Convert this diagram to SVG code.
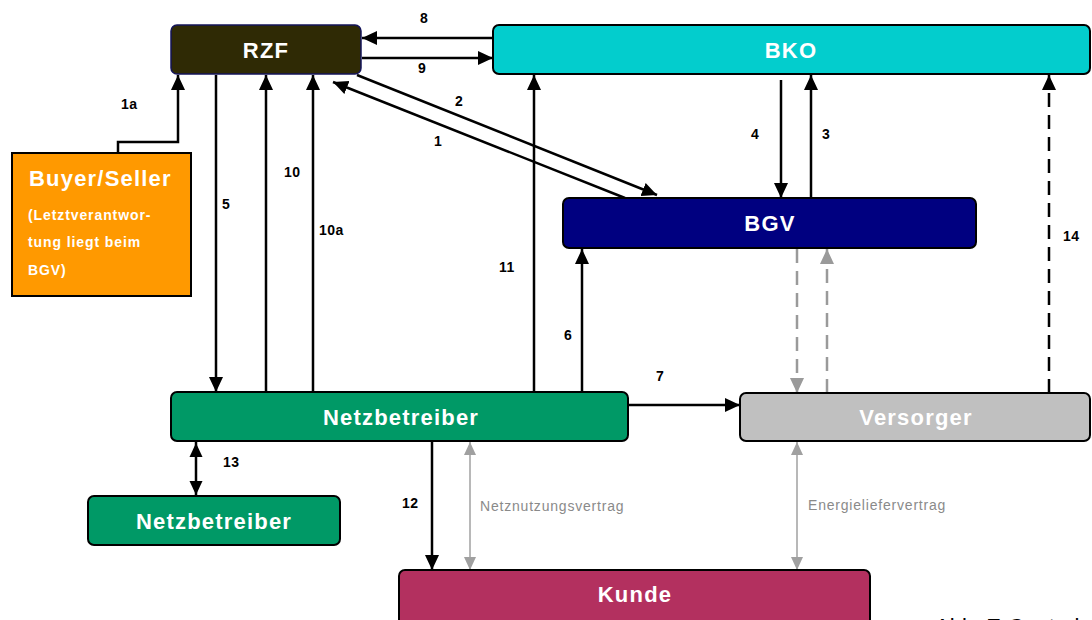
<svg xmlns="http://www.w3.org/2000/svg" width="1092" height="620" viewBox="0 0 1092 620">
<defs>
<style>
.node{stroke:#000;stroke-width:2}
.title{font-family:"Liberation Sans",Arial,sans-serif;font-weight:bold;font-size:22px;letter-spacing:1.2px;fill:#fff;text-anchor:middle}
.lbl{font-family:"Liberation Sans",Arial,sans-serif;font-weight:bold;font-size:14px;letter-spacing:0.5px;fill:#000}
.glbl{font-family:"Liberation Sans",Arial,sans-serif;font-size:14px;letter-spacing:0.8px;fill:#8a8a8a}
.small{font-family:"Liberation Sans",Arial,sans-serif;font-weight:bold;font-size:14px;letter-spacing:0.9px;fill:#fff}
.c{fill:none;stroke:#000;stroke-width:2.5}
.cd{fill:none;stroke:#000;stroke-width:2.5;stroke-dasharray:14,8}
.gd{fill:none;stroke:#9a9a9a;stroke-width:2.5;stroke-dasharray:14,8}
.gt{fill:none;stroke:#a0a0a0;stroke-width:1.5}
</style>
<marker id="ab" markerUnits="userSpaceOnUse" markerWidth="16" markerHeight="16" refX="15" refY="8" orient="auto">
<path d="M0,1 L15,8 L0,15 z" fill="#000"/>
</marker>
<marker id="abs" markerUnits="userSpaceOnUse" markerWidth="16" markerHeight="16" refX="15" refY="8" orient="auto-start-reverse">
<path d="M0,1.5 L14,8 L0,14.5 z" fill="#000"/>
</marker>
<marker id="ag" markerUnits="userSpaceOnUse" markerWidth="16" markerHeight="16" refX="15" refY="8" orient="auto">
<path d="M0,1 L15,8 L0,15 z" fill="#9a9a9a"/>
</marker>
<marker id="agt" markerUnits="userSpaceOnUse" markerWidth="14" markerHeight="14" refX="13" refY="7" orient="auto-start-reverse">
<path d="M0,1 L13,7 L0,13 z" fill="#a0a0a0"/>
</marker>
</defs>
<rect width="1092" height="620" fill="#fff"/>

<g id="connectors">
<path class="c" d="M493,38 L362,38" marker-end="url(#ab)"/>
<path class="c" d="M362,58 L493,58" marker-end="url(#ab)"/>
<path class="c" d="M118,153 L118,142 L178,142 L178,75" marker-end="url(#ab)"/>
<path class="c" d="M216,75 L216,392" marker-end="url(#ab)"/>
<path class="c" d="M266,392 L266,75" marker-end="url(#ab)"/>
<path class="c" d="M313,392 L313,75" marker-end="url(#ab)"/>
<path class="c" d="M357,75 L657,195" marker-end="url(#ab)"/>
<path class="c" d="M625,198 L333,82" marker-end="url(#ab)"/>
<path class="c" d="M534,392 L534,75" marker-end="url(#ab)"/>
<path class="c" d="M582,392 L582,249" marker-end="url(#ab)"/>
<path class="c" d="M629,405 L740,405" marker-end="url(#ab)"/>
<path class="c" d="M781,80 L781,198" marker-end="url(#ab)"/>
<path class="c" d="M811,198 L811,75" marker-end="url(#ab)"/>
<path class="cd" d="M1049,393 L1049,75" marker-end="url(#ab)"/>
<path class="gd" d="M797,249 L797,393" marker-end="url(#ag)"/>
<path class="gd" d="M827,393 L827,249" marker-end="url(#ag)"/>
<path class="c" d="M196,442 L196,496" marker-start="url(#abs)" marker-end="url(#abs)"/>
<path class="c" d="M432,442 L432,570" marker-end="url(#ab)"/>
<path class="gt" d="M470,442 L470,570" marker-start="url(#agt)" marker-end="url(#agt)"/>
<path class="gt" d="M797,442 L797,570" marker-start="url(#agt)" marker-end="url(#agt)"/>

<text class="lbl" x="420" y="23">8</text>
<text class="lbl" x="418" y="73">9</text>
<text class="lbl" x="121" y="109">1a</text>
<text class="lbl" x="222" y="209">5</text>
<text class="lbl" x="284" y="177">10</text>
<text class="lbl" x="319" y="235">10a</text>
<text class="lbl" x="455" y="106">2</text>
<text class="lbl" x="434" y="146">1</text>
<text class="lbl" x="499" y="272">11</text>
<text class="lbl" x="564" y="340">6</text>
<text class="lbl" x="656" y="381">7</text>
<text class="lbl" x="751" y="139">4</text>
<text class="lbl" x="822" y="139">3</text>
<text class="lbl" x="1063" y="241">14</text>
<text class="lbl" x="223" y="467">13</text>
<text class="lbl" x="402" y="508">12</text>
<text class="glbl" x="480" y="511">Netznutzungsvertrag</text>
<text class="glbl" x="808" y="510">Energieliefervertrag</text>
</g>

<g id="rzf">
<rect x="171" y="25" width="190" height="49" rx="6" fill="#2f2a05" stroke="#14145a" stroke-width="1.5"/>
<text class="title" x="266" y="58">RZF</text>
</g>
<g id="bko">
<rect class="node" x="493" y="25" width="597" height="49" rx="6" fill="#03cdcd"/>
<text class="title" x="791" y="58">BKO</text>
</g>
<g id="buyer">
<rect class="node" x="12" y="153" width="179" height="143" fill="#ff9900"/>
<text class="title" x="29" y="186" style="text-anchor:start">Buyer/Seller</text>
<text class="small" x="28" y="220">(Letztverantwor-</text>
<text class="small" x="28" y="247">tung liegt beim</text>
<text class="small" x="28" y="275">BGV)</text>
</g>
<g id="bgv">
<rect class="node" x="563" y="198" width="413" height="50" rx="6" fill="#000080"/>
<text class="title" x="770" y="231">BGV</text>
</g>
<g id="netz1">
<rect class="node" x="171" y="392" width="457" height="49" rx="6" fill="#009966"/>
<text class="title" x="401" y="425">Netzbetreiber</text>
</g>
<g id="versorger">
<rect class="node" x="740" y="393" width="350" height="48" rx="6" fill="#c0c0c0"/>
<text class="title" x="916" y="425">Versorger</text>
</g>
<g id="netz2">
<rect class="node" x="88" y="496" width="252" height="49" rx="6" fill="#009966"/>
<text class="title" x="214" y="529">Netzbetreiber</text>
</g>
<g id="kunde">
<rect class="node" x="399" y="570" width="471" height="56" rx="6" fill="#b3305f"/>
<text class="title" x="635" y="602">Kunde</text>
</g>
<text x="935" y="634" style="font-family:'Liberation Sans',Arial,sans-serif;font-size:22px;fill:#000">Abb: E-Control</text>
</svg>
